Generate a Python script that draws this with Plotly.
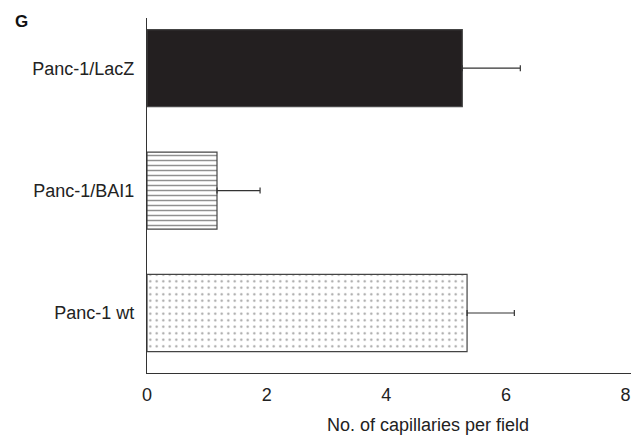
import plotly.graph_objects as go

categories = ["Panc-1 wt", "Panc-1/BAI1", "Panc-1/LacZ"]
values = [5.35, 1.17, 5.27]
errors = [0.79, 0.72, 0.97]
x_ticks = [0, 2, 4, 6, 8]

styles = [
    dict(color="white", pattern=dict(shape=".", fgcolor="#444444", bgcolor="white", size=6.5, solidity=0.1)),
    dict(color="white", pattern=dict(shape="-", fgcolor="#222222", bgcolor="white", size=5, solidity=0.3)),
    dict(color="#231f20"),
]

fig = go.Figure()
for cat, v, e, st in zip(categories, values, errors, styles):
    fig.add_trace(go.Bar(
        y=[cat], x=[v], orientation="h", width=0.63,
        marker=dict(line=dict(color="#444444", width=1.2), **st),
        error_x=dict(type="data", array=[e], arrayminus=[0], symmetric=False,
                     color="#333333", thickness=1.2, width=3),
        showlegend=False,
    ))

font = "Liberation Sans, Arial, sans-serif"
fig.update_layout(
    width=631, height=435,
    margin=dict(l=147, r=0, t=18, b=62),
    paper_bgcolor="white", plot_bgcolor="white",
    barmode="overlay",
    font=dict(family=font, size=18, color="#222222"),
    xaxis=dict(range=[0, 8.09], tickvals=x_ticks, showline=True, linecolor="#333333",
               linewidth=1.2, showgrid=False, zeroline=False, ticks="", ticklen=0,
               ticklabelstandoff=5, tickfont=dict(size=18), automargin=False),
    yaxis=dict(range=[-0.49, 2.41], categoryorder="array", categoryarray=categories,
               showline=True, linecolor="#333333", linewidth=1.2, showgrid=False,
               zeroline=False, ticks="", ticklabelstandoff=8, tickfont=dict(size=18),
               automargin=False),
    annotations=[
        dict(text="No. of capillaries per field", xref="paper", yref="paper",
             x=(428 - 147) / 484, y=-(425 - 373) / 355, xanchor="center", yanchor="middle",
             showarrow=False, font=dict(size=18)),
        dict(text="<b>G</b>", xref="paper", yref="paper", x=-(147 - 13) / 484, y=(373 - 22) / 355,
             xanchor="left", yanchor="middle", showarrow=False, font=dict(size=17, color="#111111")),
    ],
)

fig.write_html("out.html", config={"displayModeBar": False},
               post_script="document.body.style.margin='0';document.body.style.overflow='hidden';")
